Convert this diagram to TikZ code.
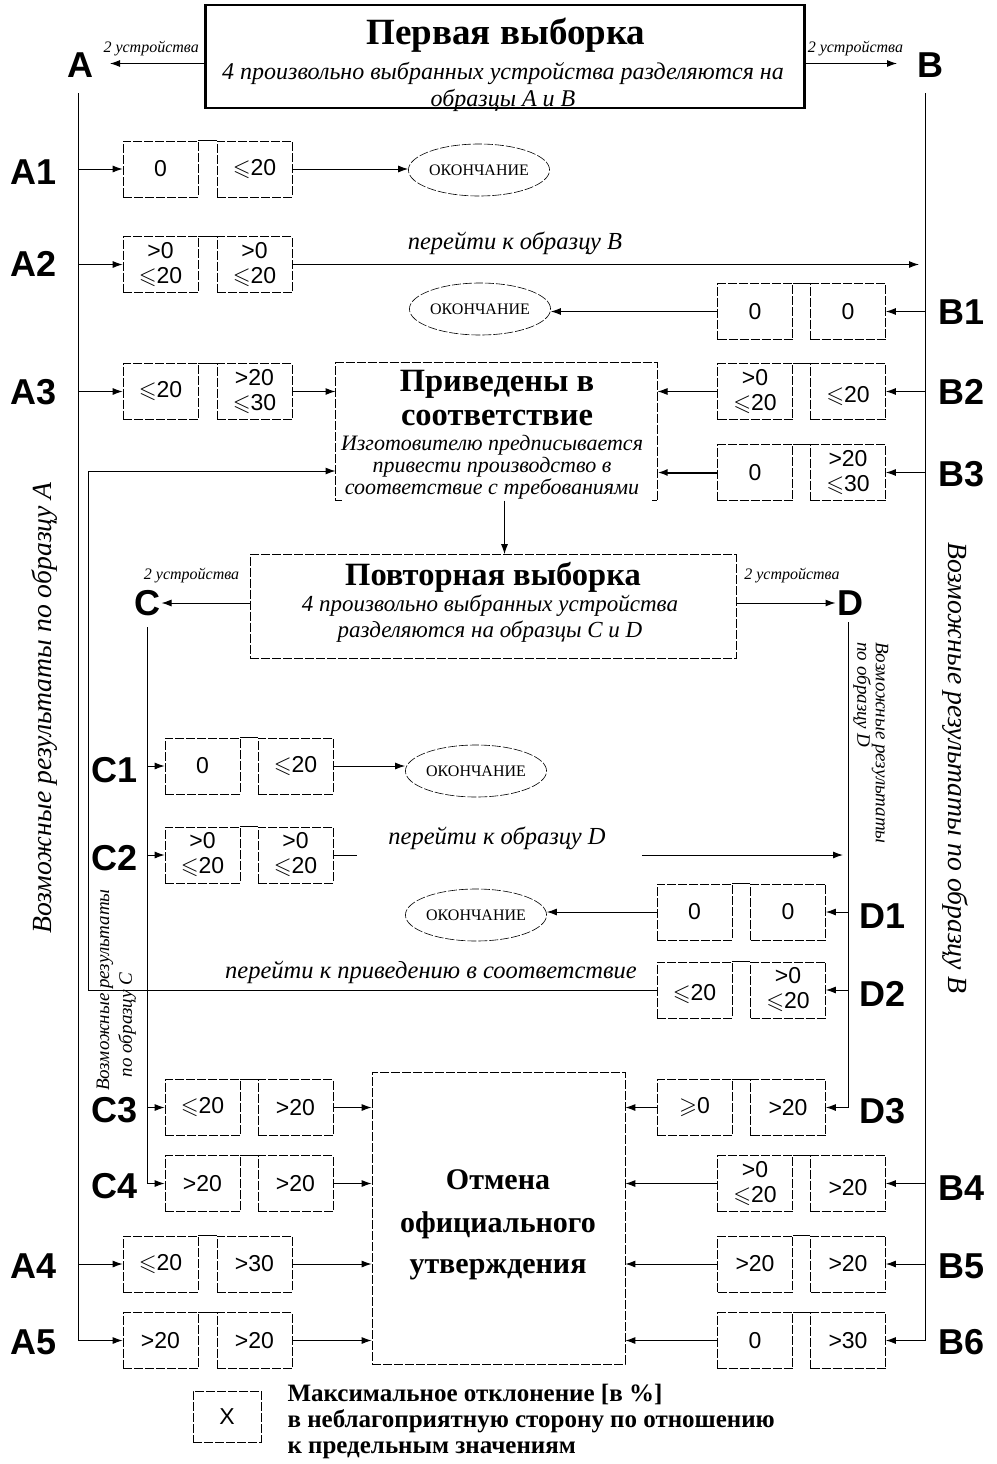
\documentclass[tikz,border=0pt]{standalone}
\usepackage{fontspec}
\setmainfont{Liberation Serif}
\newfontfamily\arialfont{Liberation Sans}
\usepackage{amssymb}
\usetikzlibrary{arrows.meta,shapes.geometric}

\newcommand\lsl{$\leqslant$}
\newcommand\gsl{$\geqslant$}

\tikzset{
  arr/.style={-{Latex[length=10pt,width=7pt]}},
  cellbox/.style={draw, dash pattern=on 9pt off 2pt, line width=0.7pt,
    minimum width=75pt, minimum height=56pt, inner sep=0pt, align=center,
    font={\arialfont\fontsize{23}{25}\selectfont}},
  rowlabel/.style={inner sep=1pt, font={\arialfont\bfseries\fontsize{36}{36}\selectfont}},
  endnode/.style={ellipse, draw, dash pattern=on 9pt off 2pt, line width=0.6pt,
    minimum width=135pt, minimum height=52pt, inner sep=0pt,
    font={\fontsize{16}{16}\selectfont}},
  framebox/.style={draw, dash pattern=on 9pt off 2pt, line width=0.7pt},
  headline/.style={font={\bfseries\fontsize{32.5}{32.5}\selectfont}},
  notetext/.style={align=center, font={\itshape\fontsize{23}{26}\selectfont}},
  gotext/.style={font={\itshape\fontsize{24.5}{26}\selectfont}},
  twodev/.style={font={\itshape\fontsize{16}{16}\selectfont}},
  sidetext/.style={font={\itshape\fontsize{27.7}{28}\selectfont}},
  subside/.style={font={\itshape\fontsize{19}{19}\selectfont}},
}

\begin{document}
\begin{tikzpicture}[x=1pt, y=-1pt, line width=1pt]
  \useasboundingbox (0,0) rectangle (996,1464);

  % first sample
  \node[notetext, font={\itshape\fontsize{24}{27}\selectfont}] (firsttxt) at (503,87)
    {4 произвольно выбранных устройства разделяются на\\образцы A и B};
  \node[font={\bfseries\fontsize{37}{37}\selectfont}] (firsthead) at (506,35) {Первая выборка};
  \node[draw, line width=2.5pt, minimum width=599pt, minimum height=103pt] (first) at (505,56.5) {};

  \node[rowlabel] (A) at (80,65) {A};
  \node[rowlabel] (B) at (930,65) {B};
  \coordinate (A-in) at (110,63.5);
  \coordinate (B-in) at (897,63.5);
  \draw[arr] (first.west |- A-in) -- (A-in)
    node[midway, above, twodev, yshift=4pt, xshift=-6pt] {2 устройства};
  \draw[arr] (first.east |- B-in) -- (B-in)
    node[midway, above, twodev, yshift=4pt, xshift=4pt] {2 устройства};

  \coordinate (atop) at (78,93);
  \coordinate (btop) at (925,93);

  % result cells
  \foreach \nm/\xl/\xr/\y/\ta/\tb in {
      a1/160.5/254.5/169/{0}/{\lsl20},
      a2/160.5/254.5/264.5/{>0\\\lsl20}/{>0\\\lsl20},
      a3/160.5/254.5/391.5/{\lsl20}/{>20\\\lsl30},
      a4/160.5/254.5/1264/{\lsl20}/{>30},
      a5/160.5/254.5/1340.5/{>20}/{>20},
      b1/755/848/311.5/{0}/{0},
      b2/755/848/391.5/{>0\\\lsl20}/{~\\\lsl20},
      b3/755/848/472.5/{0}/{>20\\\lsl30},
      b4/755/848/1183.5/{>0\\\lsl20}/{~\\>20},
      b5/755/848/1264/{>20}/{>20},
      b6/755/848/1340.5/{0}/{>30},
      c1/202.5/295.5/766/{0}/{\lsl20},
      c2/202.5/295.5/855/{>0\\\lsl20}/{>0\\\lsl20},
      c3/202.5/295.5/1107.5/{\lsl20}/{>20},
      c4/202.5/295.5/1183.5/{>20}/{>20},
      d1/694.5/788/912/{0}/{0},
      d2/694.5/788/990/{~\\\lsl20}/{>0\\\lsl20},
      d3/694.5/788/1107.5/{\gsl0}/{>20}}
  {
    \node[cellbox] (\nm-l) at (\xl,\y) {\ta};
    \node[cellbox] (\nm-r) at (\xr,\y) {\tb};
    \draw[line width=0.7pt] (\nm-l.north east) -- (\nm-r.north west);
  }

  % row labels
  \node[rowlabel, anchor=east] (A1) at (58,172) {A1};
  \node[rowlabel, anchor=east] (A2) at (58,264) {A2};
  \node[rowlabel, anchor=east] (A3) at (58,392) {A3};
  \node[rowlabel, anchor=east] (A4) at (58,1266) {A4};
  \node[rowlabel, anchor=east] (A5) at (58,1342) {A5};
  \node[rowlabel, anchor=west] (B1) at (937,312) {B1};
  \node[rowlabel, anchor=west] (B2) at (937,392) {B2};
  \node[rowlabel, anchor=west] (B3) at (937,474) {B3};
  \node[rowlabel, anchor=west] (B4) at (937,1188) {B4};
  \node[rowlabel, anchor=west] (B5) at (937,1266) {B5};
  \node[rowlabel, anchor=west] (B6) at (937,1342) {B6};
  \node[rowlabel, anchor=east] (C1) at (139,770) {C1};
  \node[rowlabel, anchor=east] (C2) at (139,858) {C2};
  \node[rowlabel, anchor=east] (C3) at (139,1110) {C3};
  \node[rowlabel, anchor=east] (C4) at (139,1186) {C4};
  \node[rowlabel, anchor=west] (D1) at (858,916) {D1};
  \node[rowlabel, anchor=west] (D2) at (858,994) {D2};
  \node[rowlabel, anchor=west] (D3) at (858,1111) {D3};

  % sample lines A and B
  \draw[arr] (atop) |- (a5-l.west);
  \foreach \nm in {a1,a2,a3,a4}
    \draw[arr] (\nm-l.west -| atop) -- (\nm-l.west);
  \draw[arr] (btop) |- (b6-r.east);
  \foreach \nm in {b1,b2,b3,b4,b5}
    \draw[arr] (\nm-r.east -| btop) -- (\nm-r.east);

  % end of test
  \node[endnode] (end1) at (479,170) {ОКОНЧАНИЕ};
  \node[endnode] (end2) at (480,309) {ОКОНЧАНИЕ};
  \node[endnode] (end3) at (476,771) {ОКОНЧАНИЕ};
  \node[endnode] (end4) at (476,915) {ОКОНЧАНИЕ};
  \draw[arr] (a1-r.east) -- (a1-r.east -| end1.west);
  \draw[arr] (b1-l.west) -- (b1-l.west -| end2.east);
  \draw[arr] (c1-r.east) -- (c1-r.east -| end3.west);
  \draw[arr] (d1-l.west) -- (d1-l.west -| end4.east);

  \draw[arr, shorten >=6pt] (a2-r.east) -- (a2-r.east -| btop);
  \node[gotext] (goB) at (515,243) {перейти к образцу B};

  % conformity
  \node[minimum width=321pt, minimum height=137pt] (corr) at (496.5,431.5) {};
  \draw[framebox] ([xshift=6pt]corr.south west) -- (corr.south west) -- (corr.north west)
    -- (corr.north east) -- (corr.south east) -- ([xshift=-6pt]corr.south east);
  \node[headline] (corrh1) at (497,384) {Приведены в};
  \node[headline] (corrh2) at (497,418) {соответствие};
  \node[notetext, font={\itshape\fontsize{22}{22}\selectfont}] (corrtxt) at (492,467)
    {Изготовителю предписывается\\привести производство в\\соответствие с требованиями};
  \draw[arr] (a3-r.east) -- (a3-r.east -| corr.west);
  \draw[arr] (b2-l.west) -- (b2-l.west -| corr.east);
  \draw[arr, line width=2pt] (b3-l.west) -- (b3-l.west -| corr.east);

  % second sample
  \node[framebox, minimum width=486pt, minimum height=104pt] (rep) at (493,606.5) {};
  \node[headline] (rephead) at (493,577) {Повторная выборка};
  \node[notetext] (reptxt) at (490,619) {4 произвольно выбранных устройства\\разделяются на образцы C и D};
  \draw[arr] ([xshift=8pt]corr.south) -- ([xshift=8pt]corr.south |- rep.north);

  \node[rowlabel] (C) at (147,603) {C};
  \node[rowlabel] (D) at (850,603) {D};
  \draw[arr] (rep.west |- C.east) -- (C.east)
    node[midway, above, twodev, yshift=16pt, xshift=-14pt] {2 устройства};
  \draw[arr] (rep.east |- D.west) -- (D.west)
    node[midway, above, twodev, yshift=16pt, xshift=6pt] {2 устройства};

  \coordinate (ctop) at (147,627);
  \coordinate (dtop) at (848,622);
  \draw[arr] (ctop) |- (c4-l.west);
  \foreach \nm in {c1,c2,c3}
    \draw[arr] (\nm-l.west -| ctop) -- (\nm-l.west);
  \draw[arr] (dtop) |- (d3-r.east);
  \foreach \nm in {d1,d2}
    \draw[arr] (\nm-r.east -| dtop) -- (\nm-r.east);

  \coordinate (gapL) at (357,855);
  \coordinate (gapR) at (642,855);
  \draw (c2-r.east) -- (gapL);
  \draw[arr, shorten >=5pt] (gapR) -- (gapR -| dtop);
  \node[gotext] (goD) at (497,838) {перейти к образцу D};

  % back to conformity
  \coordinate (loop) at (88,471);
  \draw[arr] (d2-l.west) -- (d2-l.west -| loop) -- (loop) -- (loop -| corr.west);
  \node[gotext] (goCorr) at (431,972) {перейти к приведению в соответствие};

  % withdrawal
  \node[framebox, minimum width=253pt, minimum height=292pt] (cancel) at (498.5,1218) {};
  \node[headline, font={\bfseries\fontsize{30}{30}\selectfont}] (cancel1) at (498,1180) {Отмена};
  \node[headline, font={\bfseries\fontsize{30}{30}\selectfont}] (cancel2) at (498,1225) {официального};
  \node[headline, font={\bfseries\fontsize{30}{30}\selectfont}] (cancel3) at (498,1270) {утверждения};
  \foreach \nm in {c3,c4,a4,a5}
    \draw[arr] (\nm-r.east) -- (\nm-r.east -| cancel.west);
  \foreach \nm in {d3,b4,b5,b6}
    \draw[arr] (\nm-l.west) -- (\nm-l.west -| cancel.east);

  % side captions
  \node[sidetext, rotate=90] (sideA) at (45,708) {Возможные результаты по образцу A};
  \node[sidetext, rotate=-90] (sideB) at (955,768) {Возможные результаты по образцу B};
  \node[subside, rotate=90] (sideC1) at (105,990) {Возможные результаты};
  \node[subside, rotate=90] (sideC2) at (127,1025) {по образцу C};
  \node[subside, rotate=-90] (sideD1) at (880,743) {Возможные результаты};
  \node[subside, rotate=-90] (sideD2) at (862,695) {по образцу D};

  % legend
  \node[cellbox, minimum width=68pt, minimum height=51pt] (legend) at (227,1416.5) {X};
  \node[anchor=north west, align=left, inner sep=0pt,
    font={\bfseries\fontsize{25}{26}\selectfont}] (legtxt) at (287,1384)
    {Максимальное отклонение [в \%]\\в неблагоприятную сторону по отношению\\к предельным значениям};
\end{tikzpicture}
\end{document}
